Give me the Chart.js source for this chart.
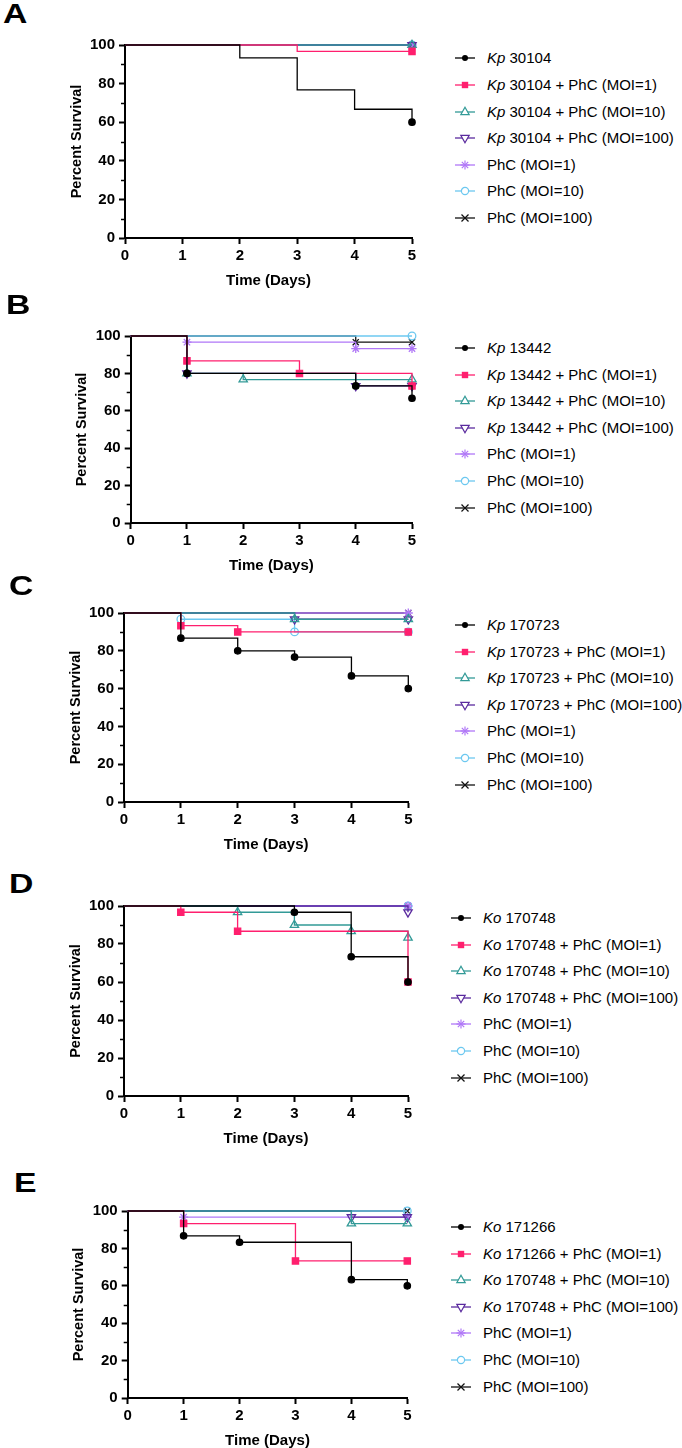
<!DOCTYPE html>
<html><head><meta charset="utf-8">
<script src="https://cdn.jsdelivr.net/npm/chart.js@4.4.1/dist/chart.umd.min.js"></script>
<style>
body{margin:0;background:#fff;width:682px;height:1448px;position:relative;overflow:hidden;font-family:"Liberation Sans",Arial,sans-serif;color:#000;}
canvas{position:absolute;left:0;}
.letter{position:absolute;font-weight:bold;font-size:27px;line-height:27px;transform-origin:0 0;transform:scaleX(1.25);}
.leg{position:absolute;font-size:15px;line-height:18px;white-space:nowrap;height:18px;}
.leg svg{position:absolute;left:0;top:2px;overflow:visible;}
.leg span{position:absolute;left:32px;top:0;}
</style></head><body>
<script>
// ---------- DATA ----------
const days = [0, 1, 2, 3, 4, 5];
const yTicks = [0, 20, 40, 60, 80, 100];
const yMinor = [10, 30, 50, 70, 90];

// Panel A
const A_kp      = [100, 100, 93.3, 76.7, 66.7, 60];
const A_kp_m1   = [100, 100, 100, 96.7, 96.7, 96.7];
const A_kp_m10  = [100, 100, 100, 100, 100, 100];
const A_kp_m100 = [100, 100, 100, 100, 100, 100];
const A_phc1    = [100, 100, 100, 100, 100, 100];
const A_phc10   = [100, 100, 100, 100, 100, 100];
const A_phc100  = [100, 100, 100, 100, 100, 100];
const A_labels = ["Kp 30104", "Kp 30104 + PhC (MOI=1)", "Kp 30104 + PhC (MOI=10)", "Kp 30104 + PhC (MOI=100)", "PhC (MOI=1)", "PhC (MOI=10)", "PhC (MOI=100)"];

// Panel B
const B_kp      = [100, 80, 80, 80, 73.3, 66.7];
const B_kp_m1   = [100, 86.7, 86.7, 80, 80, 73.3];
const B_kp_m10  = [100, 80, 76.7, 76.7, 76.7, 76.7];
const B_kp_m100 = [100, 80, 80, 80, 73.3, 73.3];
const B_phc1    = [100, 96.7, 96.7, 96.7, 93.3, 93.3];
const B_phc10   = [100, 100, 100, 100, 100, 100];
const B_phc100  = [100, 100, 100, 100, 96.7, 96.7];
const B_labels = ["Kp 13442", "Kp 13442 + PhC (MOI=1)", "Kp 13442 + PhC (MOI=10)", "Kp 13442 + PhC (MOI=100)", "PhC (MOI=1)", "PhC (MOI=10)", "PhC (MOI=100)"];

// Panel C
const C_kp      = [100, 86.7, 80, 76.7, 66.7, 60];
const C_kp_m1   = [100, 93.3, 90, 90, 90, 90];
const C_kp_m10  = [100, 100, 100, 96.7, 96.7, 96.7];
const C_kp_m100 = [100, 100, 100, 96.7, 96.7, 96.7];
const C_phc1    = [100, 100, 100, 100, 100, 100];
const C_phc10   = [100, 96.7, 96.7, 90, 90, 90];
const C_phc100  = [100, 100, 100, 100, 100, 100];
const C_labels = ["Kp 170723", "Kp 170723 + PhC (MOI=1)", "Kp 170723 + PhC (MOI=10)", "Kp 170723 + PhC (MOI=100)", "PhC (MOI=1)", "PhC (MOI=10)", "PhC (MOI=100)"];

// Panel D
const D_ko      = [100, 100, 100, 96.7, 73.3, 60];
const D_ko_m1   = [100, 96.7, 86.7, 86.7, 86.7, 60];
const D_ko_m10  = [100, 100, 96.7, 90, 86.7, 83.3];
const D_ko_m100 = [100, 100, 100, 100, 100, 96.7];
const D_phc1    = [100, 100, 100, 100, 100, 100];
const D_phc10   = [100, 100, 100, 100, 100, 100];
const D_phc100  = [100, 100, 100, 100, 100, 100];
const D_labels = ["Ko 170748", "Ko 170748 + PhC (MOI=1)", "Ko 170748 + PhC (MOI=10)", "Ko 170748 + PhC (MOI=100)", "PhC (MOI=1)", "PhC (MOI=10)", "PhC (MOI=100)"];

// Panel E
const E_ko      = [100, 86.7, 83.3, 83.3, 63.3, 60];
const E_ko_m1   = [100, 93.3, 93.3, 73.3, 73.3, 73.3];
const E_ko_m10  = [100, 100, 100, 100, 93.3, 93.3];
const E_ko_m100 = [100, 100, 100, 100, 96.7, 96.7];
const E_phc1    = [100, 96.7, 96.7, 96.7, 96.7, 96.7];
const E_phc10   = [100, 100, 100, 100, 100, 100];
const E_phc100  = [100, 100, 100, 100, 100, 100];
const E_labels = ["Ko 171266", "Ko 171266 + PhC (MOI=1)", "Ko 170748 + PhC (MOI=10)", "Ko 170748 + PhC (MOI=100)", "PhC (MOI=1)", "PhC (MOI=10)", "PhC (MOI=100)"];

const xTitle = "Time (Days)";
const yTitle = "Percent Survival";

// ---------- STYLES / LAYOUT ----------
const styles = [
  {color:'#000000', ps:'circle',   fill:true,  r:3.2, rot:0},
  {color:'#ff1f6e', ps:'rect',     fill:true,  r:4.4, rot:0},
  {color:'#329a97', ps:'triangle', fill:false, r:4.8, rot:0},
  {color:'#5a2a9e', ps:'triangle', fill:false, r:4.8, rot:180},
  {color:'#b077f7', ps:'star',     fill:false, r:4.5, rot:0},
  {color:'#6cc8f0', ps:'circle',   fill:false, r:3.8, rot:0},
  {color:'#111111', ps:'crossRot', fill:false, r:4.3, rot:0}
];

const panels = [
  {letter:'A', lx:3,  lb:24,   axisX:125,   x5:412,   y100:45.3,  y0:238.3,  legX:455, legY:58.3,  markEvents:false,
   series:[A_kp, A_kp_m1, A_kp_m10, A_kp_m100, A_phc1, A_phc10, A_phc100], labels:A_labels},
  {letter:'B', lx:6,  lb:315,  axisX:130.7, x5:412,   y100:336,   y0:523.3,  legX:455, legY:348,   markEvents:true,
   series:[B_kp, B_kp_m1, B_kp_m10, B_kp_m100, B_phc1, B_phc10, B_phc100], labels:B_labels},
  {letter:'C', lx:9,  lb:596,  axisX:124,   x5:408.3, y100:613,   y0:802.3,  legX:455, legY:625,   markEvents:true,
   series:[C_kp, C_kp_m1, C_kp_m10, C_kp_m100, C_phc1, C_phc10, C_phc100], labels:C_labels},
  {letter:'D', lx:9,  lb:894,  axisX:124,   x5:408,   y100:906,   y0:1096,   legX:451, legY:918,   markEvents:true,
   series:[D_ko, D_ko_m1, D_ko_m10, D_ko_m100, D_phc1, D_phc10, D_phc100], labels:D_labels},
  {letter:'E', lx:14, lb:1193, axisX:127.7, x5:407.3, y100:1210.7, y0:1397.3, legX:451, legY:1227, markEvents:true,
   series:[E_ko, E_ko_m1, E_ko_m10, E_ko_m100, E_phc1, E_phc10, E_phc100], labels:E_labels}
];

const FONT = '"Liberation Sans", Arial, Helvetica, sans-serif';
const CANVAS_W = 430, TOP_PAD = 20, XSCALE_H = 60, YSCALE_W = 60;

const minorTickPlugin = {
  id: 'minorTicks',
  afterDraw(chart) {
    const y = chart.scales.y, ctx = chart.ctx;
    ctx.save();
    ctx.strokeStyle = '#000';
    ctx.lineWidth = 1.5;
    yMinor.forEach(v => {
      const p = Math.round(y.getPixelForValue(v)) + 0.5;
      ctx.beginPath();
      ctx.moveTo(y.right - 4, p);
      ctx.lineTo(y.right, p);
      ctx.stroke();
    });
    ctx.restore();
  }
};

function showMarker(vals, i, markEvents) {
  if (i === vals.length - 1) return true;
  if (!markEvents || i === 0) return false;
  return vals[i] < vals[i - 1];
}

function legendSvg(st) {
  const c = st.color, cx = 10, cy = 7;
  let m = '';
  if (st.ps === 'circle' && st.fill) m = `<circle cx="${cx}" cy="${cy}" r="3" fill="${c}"/>`;
  else if (st.ps === 'circle') m = `<circle cx="${cx}" cy="${cy}" r="3.6" fill="#fff" stroke="${c}" stroke-width="1.2"/>`;
  else if (st.ps === 'rect') m = `<rect x="${cx-3.2}" y="${cy-3.2}" width="6.4" height="6.4" fill="${c}"/>`;
  else if (st.ps === 'triangle' && st.rot === 0) m = `<polygon points="${cx},${cy-4.8} ${cx+4.2},${cy+2.6} ${cx-4.2},${cy+2.6}" fill="#fff" stroke="${c}" stroke-width="1.2"/>`;
  else if (st.ps === 'triangle') m = `<polygon points="${cx},${cy+4.8} ${cx+4.2},${cy-2.6} ${cx-4.2},${cy-2.6}" fill="#fff" stroke="${c}" stroke-width="1.2"/>`;
  else if (st.ps === 'star') m = `<g stroke="${c}" stroke-width="1.2"><line x1="${cx-4.5}" y1="${cy}" x2="${cx+4.5}" y2="${cy}"/><line x1="${cx}" y1="${cy-4.5}" x2="${cx}" y2="${cy+4.5}"/><line x1="${cx-3.2}" y1="${cy-3.2}" x2="${cx+3.2}" y2="${cy+3.2}"/><line x1="${cx-3.2}" y1="${cy+3.2}" x2="${cx+3.2}" y2="${cy-3.2}"/></g>`;
  else if (st.ps === 'crossRot') m = `<g stroke="${c}" stroke-width="1.2"><line x1="${cx-3.5}" y1="${cy-3.5}" x2="${cx+3.5}" y2="${cy+3.5}"/><line x1="${cx-3.5}" y1="${cy+3.5}" x2="${cx+3.5}" y2="${cy-3.5}"/></g>`;
  return `<svg width="20" height="14" viewBox="0 0 20 14"><line x1="0" y1="${cy}" x2="20" y2="${cy}" stroke="${c}" stroke-width="1.3"/>${m}</svg>`;
}

function labelHtml(t) {
  const m = t.match(/^(Kp|Ko)( .*)$/);
  return m ? `<i>${m[1]}</i>${m[2]}` : t;
}

panels.forEach(p => {
  // letter
  const L = document.createElement('div');
  L.className = 'letter';
  L.textContent = p.letter;
  L.style.left = p.lx + 'px';
  L.style.top = (p.lb - 22.8) + 'px';
  document.body.appendChild(L);

  // legend
  p.labels.forEach((t, i) => {
    const d = document.createElement('div');
    d.className = 'leg';
    d.style.left = p.legX + 'px';
    d.style.top = (p.legY + i * 26.6 - 9) + 'px';
    d.innerHTML = legendSvg(styles[i]) + `<span>${labelHtml(t)}</span>`;
    document.body.appendChild(d);
  });

  // chart canvas
  const top = p.y100 - TOP_PAD;
  const h = Math.round(p.y0 - top + XSCALE_H);
  const cv = document.createElement('canvas');
  cv.width = CANVAS_W; cv.height = h;
  cv.style.width = CANVAS_W + 'px'; cv.style.height = h + 'px';
  cv.style.top = top + 'px';
  document.body.appendChild(cv);

  const datasets = p.series.map((vals, k) => {
    const st = styles[k];
    return {
      data: days.map((d, i) => ({x: d, y: vals[i]})),
      stepped: 'before',
      borderColor: st.color,
      borderWidth: 1.3,
      fill: false,
      clip: false,
      pointStyle: st.ps,
      pointRotation: st.rot,
      pointBorderColor: st.color,
      pointBorderWidth: 1.3,
      pointBackgroundColor: st.fill ? st.color : 'rgba(255,255,255,0)',
      pointRadius: ctx => showMarker(vals, ctx.dataIndex, p.markEvents) ? st.r : 0,
      pointHoverRadius: ctx => showMarker(vals, ctx.dataIndex, p.markEvents) ? st.r : 0
    };
  });

  new Chart(cv, {
    type: 'line',
    data: {datasets},
    plugins: [minorTickPlugin],
    options: {
      responsive: false,
      animation: false,
      devicePixelRatio: 1,
      events: [],
      layout: {padding: {left: p.axisX - YSCALE_W, right: CANVAS_W - p.x5, top: TOP_PAD, bottom: 0}},
      plugins: {legend: {display: false}, tooltip: {enabled: false}},
      scales: {
        x: {
          type: 'linear', min: 0, max: 5,
          afterBuildTicks: s => { s.ticks = days.map(v => ({value: v})); },
          afterFit: s => { s.height = XSCALE_H; },
          ticks: {color: '#000', font: {family: FONT, size: 15, weight: 'bold'}, padding: 3, maxRotation: 0, autoSkip: false},
          grid: {drawOnChartArea: false, drawTicks: true, tickLength: 6, tickWidth: 2, tickColor: '#000'},
          border: {display: true, color: '#000', width: 2},
          title: {display: true, text: xTitle, color: '#000', font: {family: FONT, size: 15, weight: 'bold'}, padding: {top: 0, bottom: 8}}
        },
        y: {
          type: 'linear', min: 0, max: 100,
          afterBuildTicks: s => { s.ticks = yTicks.map(v => ({value: v})); },
          afterFit: s => { s.width = YSCALE_W; },
          ticks: {color: '#000', font: {family: FONT, size: 15, weight: 'bold'}, padding: 4},
          grid: {drawOnChartArea: false, drawTicks: true, tickLength: 6, tickWidth: 2, tickColor: '#000'},
          border: {display: true, color: '#000', width: 2},
          title: {display: true, text: yTitle, color: '#000', font: {family: FONT, size: 14.5, weight: 'bold'}, padding: {top: 3, bottom: 0}}
        }
      }
    }
  });
});
</script>
</body></html>
